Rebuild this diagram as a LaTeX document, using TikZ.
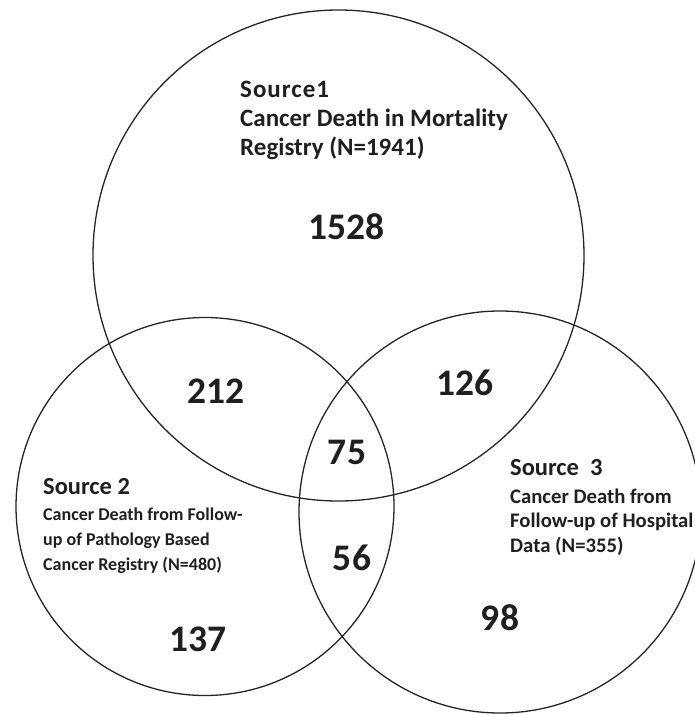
\documentclass[tikz,border=0pt]{standalone}
\usepackage{fontspec}
\setmainfont{Carlito}
\newfontfamily\widefont[LetterSpace=4]{Carlito}
\begin{document}
\begin{tikzpicture}[x=1pt,y=-1pt,
  ring/.style={draw=black!85,line width=1.3pt},
  txt/.style={anchor=base west,inner sep=0pt,text=black!88},
  head/.style={txt,font=\bfseries\fontsize{24.5}{28}\selectfont},
  widehead/.style={txt,font=\widefont\bfseries\fontsize{25}{28}\selectfont},
  body/.style={txt,font=\bfseries\fontsize{18}{22}\selectfont},
  midbody/.style={txt,font=\bfseries\fontsize{20.7}{24}\selectfont},
  bigbody/.style={txt,font=\bfseries\fontsize{25}{29}\selectfont},
  count/.style={anchor=center,inner sep=0pt,text=black!88,font=\bfseries\fontsize{37.5}{42}\selectfont}]
\useasboundingbox[fill=white] (0,0) rectangle (694,715);
% circles
\draw[ring] (338.5,255.5) circle (245.5pt);
\draw[ring] (205,506.5) circle (189pt);
\draw[ring] (500,512) circle (201pt);
% Source 1
\node[widehead] (s1a) at (240,97.5) {Source1};
\node[bigbody] (s1b) at (240,126.5) {Cancer Death in Mortality};
\node[bigbody] (s1c) at (240,155.5) {Registry (N=1941)};
% Source 2
\node[head] (s2a) at (43,494) {Source 2};
\node[body] (s2b) at (43,520.5) {Cancer Death from Follow-};
\node[body] (s2c) at (43,545.5) {up of Pathology Based};
\node[body] (s2d) at (43,570.5) {Cancer Registry (N=480)};
% Source 3
\node[head] (s3a) at (510,475) {Source~~3};
\node[midbody] (s3b) at (510,503) {Cancer Death from};
\node[midbody] (s3c) at (510,527.5) {Follow-up of Hospital};
\node[midbody] (s3d) at (510,552) {Data (N=355)};
% counts
\node[count] (n1528) at (346.5,226.5) {1528};
\node[count] (n212) at (216,391) {212};
\node[count] (n126) at (465,383) {126};
\node[count] (n75) at (347,452) {75};
\node[count] (n56) at (352,558) {56};
\node[count] (n137) at (198,639) {137};
\node[count] (n98) at (500,618) {98};
\end{tikzpicture}
\end{document}
